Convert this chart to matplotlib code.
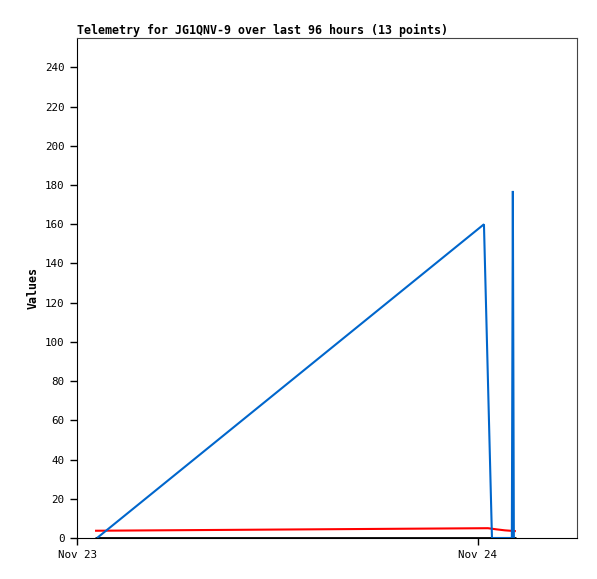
import datetime as dt
import matplotlib
matplotlib.use("Agg")
from matplotlib import pyplot as plt
import matplotlib.dates as mdates

# Telemetry series, hours after Nov 23 00:00
base = dt.datetime(2024, 11, 23)

blue_hours = [1.2, 24.36, 24.84, 26.03, 26.09, 26.15]
blue_vals = [0, 160, 0, 0, 177, 0]

red_hours = [1.08, 24.6, 25.12, 25.62, 26.27]
red_vals = [3.7, 5.0, 4.4, 3.9, 3.5]

black_hours = [1.08, 26.27]
black_vals = [0, 0]

title = "Telemetry for JG1QNV-9 over last 96 hours (13 points)"
ylabel = "Values"


def to_dates(hours):
    return [base + dt.timedelta(hours=h) for h in hours]


plt.rcParams['font.family'] = ['DejaVu Sans Mono']

fig = plt.figure(figsize=(5.97, 5.79), dpi=100)
ax = fig.add_axes([77 / 597, 41 / 579, 500 / 597, 500 / 579])

line_kw = dict(solid_capstyle="butt", solid_joinstyle="miter")
ax.plot(to_dates(black_hours), black_vals, color="black", lw=2, **line_kw)
ax.plot(to_dates(red_hours), red_vals, color="#ff0000", lw=1.5, **line_kw)
ax.plot(to_dates(blue_hours), blue_vals, color="#0066cc", lw=1.5, **line_kw)

ax.set_xlim(base, base + dt.timedelta(hours=29.93))
ax.set_ylim(0, 255)
ax.set_yticks(range(0, 241, 20))
ax.xaxis.set_major_locator(mdates.DayLocator())
ax.xaxis.set_major_formatter(mdates.DateFormatter("%b %d"))

ax.tick_params(direction="out", length=5, width=1, labelsize=7.8, pad=4)
for side in ["top", "right"]:
    ax.spines[side].set_color("#444444")
for side in ["left", "bottom"]:
    ax.spines[side].set_color("black")

ax.set_title(title, loc="left", fontsize=8.4, fontweight="bold", pad=3)
ax.set_ylabel(ylabel, fontsize=8.4, fontweight="bold", labelpad=4)

fig.savefig("out.png", dpi=100)
